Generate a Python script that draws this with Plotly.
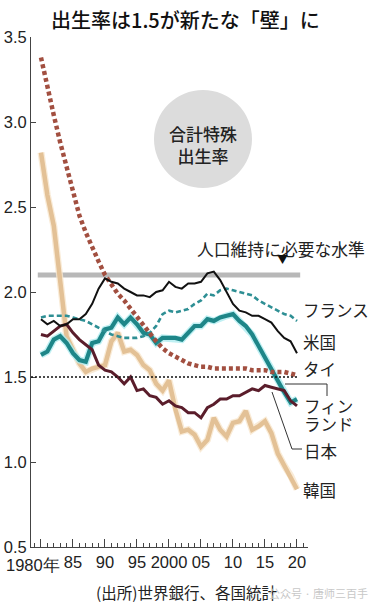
import plotly.graph_objects as go

# ---------------- data ----------------
years = list(range(1980, 2021))

thailand = [3.38, 3.20, 3.04, 2.88, 2.73, 2.58, 2.45, 2.35, 2.26, 2.18,
            2.10, 2.04, 1.99, 1.95, 1.90, 1.85, 1.80, 1.76, 1.71, 1.67,
            1.64, 1.62, 1.60, 1.58, 1.57, 1.56, 1.56, 1.55, 1.55, 1.55,
            1.55, 1.55, 1.55, 1.54, 1.54, 1.54, 1.53, 1.53, 1.53, 1.52, 1.51]

korea = [2.82, 2.57, 2.39, 2.06, 1.74, 1.66, 1.58, 1.53, 1.55, 1.56,
         1.57, 1.71, 1.76, 1.65, 1.66, 1.63, 1.57, 1.54, 1.46, 1.42,
         1.48, 1.31, 1.18, 1.19, 1.16, 1.09, 1.13, 1.26, 1.19, 1.15,
         1.23, 1.24, 1.30, 1.19, 1.21, 1.24, 1.17, 1.05, 0.98, 0.92, 0.84]

usa = [1.84, 1.81, 1.83, 1.80, 1.81, 1.84, 1.84, 1.87, 1.93, 2.02,
       2.08, 2.06, 2.05, 2.02, 2.00, 1.98, 1.98, 1.97, 2.00, 2.01,
       2.06, 2.03, 2.02, 2.05, 2.05, 2.06, 2.11, 2.12, 2.07, 2.00,
       1.93, 1.89, 1.88, 1.86, 1.86, 1.84, 1.82, 1.77, 1.73, 1.71, 1.64]

france = [1.85, 1.86, 1.86, 1.86, 1.86, 1.85, 1.84, 1.83, 1.81, 1.79,
          1.77, 1.75, 1.74, 1.73, 1.73, 1.73, 1.74, 1.76, 1.80, 1.87,
          1.89, 1.88, 1.89, 1.90, 1.93, 1.95, 1.99, 1.98, 2.01, 2.02,
          2.01, 2.00, 1.99, 1.98, 1.95, 1.93, 1.91, 1.89, 1.87, 1.86, 1.83]

finland = [1.63, 1.65, 1.72, 1.74, 1.70, 1.64, 1.60, 1.59, 1.70, 1.71,
           1.78, 1.79, 1.85, 1.81, 1.85, 1.81, 1.76, 1.75, 1.70, 1.73,
           1.73, 1.73, 1.72, 1.76, 1.80, 1.80, 1.84, 1.83, 1.85, 1.86,
           1.87, 1.83, 1.80, 1.75, 1.68, 1.61, 1.54, 1.47, 1.41, 1.35, 1.37]

japan = [1.75, 1.74, 1.77, 1.80, 1.81, 1.76, 1.72, 1.69, 1.66, 1.57,
         1.54, 1.53, 1.50, 1.46, 1.50, 1.42, 1.43, 1.39, 1.38, 1.34,
         1.36, 1.33, 1.32, 1.29, 1.29, 1.26, 1.32, 1.34, 1.37, 1.37,
         1.39, 1.39, 1.41, 1.43, 1.42, 1.45, 1.44, 1.43, 1.42, 1.36, 1.33]

y_tick_vals = [0.5, 1.0, 1.5, 2.0, 2.5, 3.0, 3.5]
y_tick_text = ["0.5", "1.0", "1.5", "2.0", "2.5", "3.0", "3.5"]
x_tick_vals = [1980, 1985, 1990, 1995, 2000, 2005, 2010, 2015, 2020]
x_tick_text = ["", "85", "90", "95", "2000", "05", "10", "15", "20"]
first_year_label = "1980年"

replacement_level = 2.1
wall_level = 1.5

title_text = "出生率は1.5が新たな「壁」に"
bubble_text = "合計特殊<br>出生率"
replacement_text = "人口維持に必要な水準"
source_text = "(出所)世界銀行、各国統計"
watermark_text = "公众号 · 唐师三百手"

# ---------------- layout geometry ----------------
W, H = 373, 604
ML, MR, MT, MB = 31, 65, 37, 57
X_RANGE = [1978.44, 2021.72]
Y_RANGE = [0.5, 3.5]
PW, PH = W - ML - MR, H - MT - MB

def pxp(x):  # pixel -> paper x
    return (x - ML) / PW

def pyp(y):  # pixel -> paper y
    return (H - MB - y) / PH

JP = "Noto Sans CJK JP, Noto Sans CJK SC, sans-serif"
NUM = "Liberation Sans Narrow, Liberation Sans, Arial, sans-serif"
NUM_SIZE = 16.5

fig = go.Figure()

# Korea (with pale halo)
fig.add_trace(go.Scatter(x=years, y=korea, mode="lines",
                         line=dict(color="rgba(247,230,205,0.8)", width=7),
                         hoverinfo="skip"))
fig.add_trace(go.Scatter(x=years, y=korea, mode="lines", name="韓国",
                         line=dict(color="#e3c196", width=4.5)))
# Finland (with cyan halo)
fig.add_trace(go.Scatter(x=years, y=finland, mode="lines",
                         line=dict(color="rgba(175,236,240,0.8)", width=7),
                         hoverinfo="skip"))
fig.add_trace(go.Scatter(x=years, y=finland, mode="lines", name="フィンランド",
                         line=dict(color="#1e8688", width=4.2)))
# France
fig.add_trace(go.Scatter(x=years, y=france, mode="lines", name="フランス",
                         line=dict(color="#2e8f94", width=2.6, dash="5px,3px")))
# Thailand
fig.add_trace(go.Scatter(x=years, y=thailand, mode="lines", name="タイ",
                         line=dict(color="#a24f40", width=4.5, dash="4px,3px")))
# Japan
fig.add_trace(go.Scatter(x=years, y=japan, mode="lines", name="日本",
                         line=dict(color="#5a1d2b", width=3)))
# USA
fig.add_trace(go.Scatter(x=years, y=usa, mode="lines", name="米国",
                         line=dict(color="#111111", width=2)))

shapes = []
# bubble
bx, by = 1980 + (203 - 41) / 6.4, 2.0 + (292 - 139) / 170
rx, ry = 49 / 6.4, 49 / 170
shapes.append(dict(type="circle", xref="x", yref="y",
                   x0=bx - rx, x1=bx + rx, y0=by - ry, y1=by + ry,
                   fillcolor="#dcdcdc", line=dict(width=0), layer="below"))
# replacement level band
shapes.append(dict(type="line", xref="x", yref="y", x0=1979.5, x1=2020.5,
                   y0=replacement_level, y1=replacement_level,
                   line=dict(color="#b8b8b8", width=5), layer="below"))
# 1.5 dotted line
shapes.append(dict(type="line", xref="x", yref="y", x0=X_RANGE[0], x1=2020.2,
                   y0=wall_level, y1=wall_level,
                   line=dict(color="#111111", width=1.5, dash="2px,2px")))
# leader lines (Finland, Japan)
lc = dict(color="#333333", width=1)
shapes.append(dict(type="path", xref="paper", yref="paper",
                   path=f"M {pxp(285)} {pyp(384)} L {pxp(327)} {pyp(384)} L {pxp(327)} {pyp(396)}",
                   line=lc))
shapes.append(dict(type="path", xref="paper", yref="paper",
                   path=f"M {pxp(272)} {pyp(392)} L {pxp(292)} {pyp(449)} L {pxp(302)} {pyp(449)}",
                   line=lc))

annotations = []
def label(text, x, y, size=16.5, xanchor="left", color="#222222", font=JP, weight=None):
    f = dict(family=font, size=size, color=color)
    if weight:
        f["weight"] = weight
    annotations.append(dict(text=text, xref="paper", yref="paper",
                            x=pxp(x), y=pyp(y), xanchor=xanchor, yanchor="middle",
                            showarrow=False, align="left", borderpad=0, font=f))

label("フランス", 302, 310)
label("米国", 302, 342)
label("タイ", 302, 369)
label("フィン", 303, 406)
label("ランド", 303, 424)
label("日本", 303, 451)
label("韓国", 302, 490)
label(replacement_text, 280.5, 249, size=16.8, xanchor="center")
label("▼", 282, 259, size=11, xanchor="center", color="#111111")
annotations.append(dict(text=bubble_text, xref="x", yref="y", x=bx, y=by - 0.03,
                        showarrow=False, align="center",
                        font=dict(family=JP, size=17, color="#222222", weight=500)))
label(source_text, 186, 592, size=15.5, xanchor="center")
label(watermark_text, 318, 593, size=11, xanchor="center", color="#c8c8c8")
# first x tick label (shifted left like the reference)
annotations.append(dict(text=first_year_label, xref="x", yref="paper",
                        x=x_tick_vals[0], y=pyp(565), xanchor="center", yanchor="middle",
                        xshift=-8, showarrow=False, borderpad=0,
                        font=dict(family=NUM, size=NUM_SIZE, color="#222222")))

fig.update_layout(
    width=W, height=H,
    margin=dict(l=ML, r=MR, t=MT, b=MB, pad=0, autoexpand=False),
    paper_bgcolor="white", plot_bgcolor="white",
    showlegend=False,
    title=dict(text=title_text, x=0.497, xref="container", xanchor="center",
               y=1 - 21 / H, yref="container", yanchor="middle",
               font=dict(family=JP, size=20, color="#111111", weight=500)),
    shapes=shapes, annotations=annotations,
)

fig.update_xaxes(range=X_RANGE, showgrid=False, zeroline=False, automargin=False,
                 showline=True, linecolor="#444444", linewidth=1,
                 ticks="inside", ticklen=8, tickcolor="#444444", tickwidth=1,
                 tickvals=x_tick_vals, ticktext=x_tick_text, tickangle=0,
                 tickfont=dict(family=NUM, size=NUM_SIZE, color="#222222"),
                 minor=dict(ticks="inside", ticklen=4, dtick=1, tick0=1980,
                            tickcolor="#444444", showgrid=False))
fig.update_yaxes(range=Y_RANGE, showgrid=False, zeroline=False, automargin=False,
                 showline=True, linecolor="#444444", linewidth=1,
                 ticks="inside", ticklen=5, tickcolor="#444444", tickwidth=1,
                 tickvals=y_tick_vals, ticktext=y_tick_text,
                 tickfont=dict(family=NUM, size=NUM_SIZE, color="#222222"))

fig.write_html("out.html",
               config={"displayModeBar": False, "staticPlot": True},
               post_script="document.body.style.margin='0px';document.body.style.overflow='hidden';")
